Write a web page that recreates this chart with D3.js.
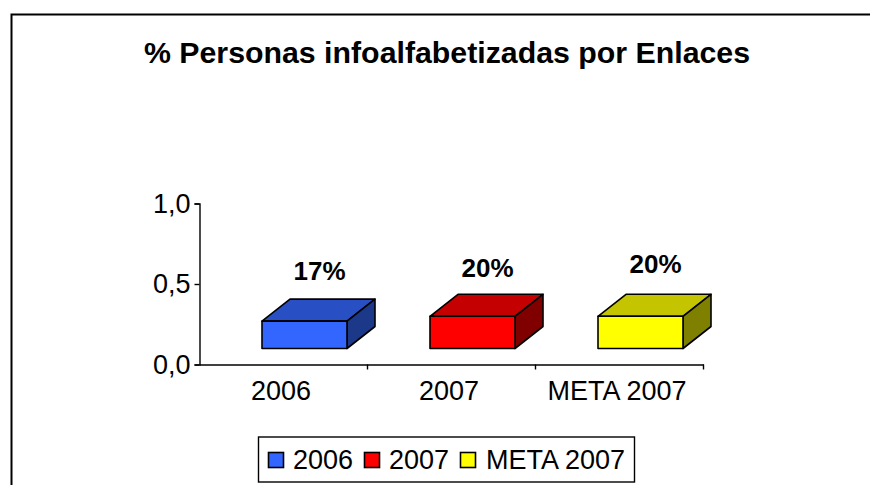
<!DOCTYPE html>
<html><head><meta charset="utf-8">
<script src="https://cdnjs.cloudflare.com/ajax/libs/d3/7.8.5/d3.min.js"></script>
<style>html,body{margin:0;padding:0;background:#fff}svg{display:block}text{font-family:"Liberation Sans",Arial,sans-serif;fill:#000}</style>
</head><body><svg id="c" width="870" height="485"></svg>
<script>
const categories = ["2006","2007","META 2007"];
const values = [0.17,0.20,0.20];
const valueLabels = ["17%","20%","20%"];
const colors = ["#3366FF","#FF0000","#FFFF00"];
const topColors = ["#2850C4","#C40000","#C4C400"];
const sideColors = ["#1C3888","#800000","#808000"];
const yTicks = [0,0.5,1];
const titleText = "% Personas infoalfabetizadas por Enlaces";
const labelOffset = [41,39,43];

const svg = d3.select("#c");
svg.append("path").attr("d","M11.5,485V14.5H870").attr("fill","none").attr("stroke","#000").attr("stroke-width",2);
svg.append("text").attr("x",447).attr("y",63).attr("text-anchor","middle").attr("font-size",30.3).attr("font-weight","bold").text(titleText);

const x = d3.scaleBand().domain(categories).range([199.5,703.5]);
const y = d3.scaleLinear().domain([0,1]).range([364.5,203.5]);
const fmt = d => d3.format(".1f")(d).replace(".",",");

const yAxis = svg.append("g").attr("transform","translate(199.5,0)")
  .call(d3.axisLeft(y).tickValues(yTicks).tickFormat(fmt).tickSize(5).tickPadding(4));
const xAxis = svg.append("g").attr("transform","translate(0,364.5)")
  .call(d3.axisBottom(x).tickFormat(d=>d).tickSize(0).tickPadding(16));
xAxis.selectAll("text").attr("dx",-2.5);
svg.selectAll("g text").attr("font-size",27).attr("font-family",'"Liberation Sans",Arial,sans-serif');
svg.append("g").selectAll("line").data(categories.map(c=>x(c)+x.bandwidth())).join("line")
  .attr("x1",d=>d).attr("x2",d=>d).attr("y1",364.5).attr("y2",369.5).attr("stroke","#000");
svg.selectAll(".domain,.tick line,line").attr("stroke","#000").attr("stroke-width",1.4);

const barW = 85, dx = 28, dy = 22, lift = 16, shift = 21;
svg.append("g").selectAll("g").data(categories).join("g").each(function(c,i){
  const g = d3.select(this);
  const cx = x(c)+x.bandwidth()/2+shift;
  const l = cx-barW/2, r = cx+barW/2, b = y(0)-lift, t = b-(y(0)-y(values[i]));
  const poly = (pts,f)=>g.append("polygon").attr("points",pts.map(p=>p.join(",")).join(" "))
    .attr("fill",f).attr("stroke","#000").attr("stroke-width",1.6).attr("stroke-linejoin","round");
  poly([[l,t],[l+dx,t-dy],[r+dx,t-dy],[r,t]],topColors[i]);
  poly([[r,t],[r+dx,t-dy],[r+dx,b-dy],[r,b]],sideColors[i]);
  poly([[l,t],[r,t],[r,b],[l,b]],colors[i]);
});
svg.append("g").selectAll("text").data(categories).join("text")
  .attr("x",c=>x(c)+x.bandwidth()/2+shift+15)
  .attr("y",(c,i)=>y(values[i])-lift-labelOffset[i])
  .attr("text-anchor","middle").attr("font-size",26).attr("font-weight","bold")
  .text((c,i)=>valueLabels[i]);

svg.append("rect").attr("x",258.5).attr("y",437).attr("width",376).attr("height",45).attr("fill","#fff").attr("stroke","#000").attr("stroke-width",1.4);
const swatchX = [268,364,460], textX = [293,389,486];
categories.forEach((c,i)=>{
  svg.append("rect").attr("x",swatchX[i]+.5).attr("y",452.5).attr("width",15).attr("height",15).attr("fill",colors[i]).attr("stroke","#000").attr("stroke-width",1.6);
  svg.append("text").attr("x",textX[i]).attr("y",469).attr("font-size",27).text(c);
});
</script></body></html>
